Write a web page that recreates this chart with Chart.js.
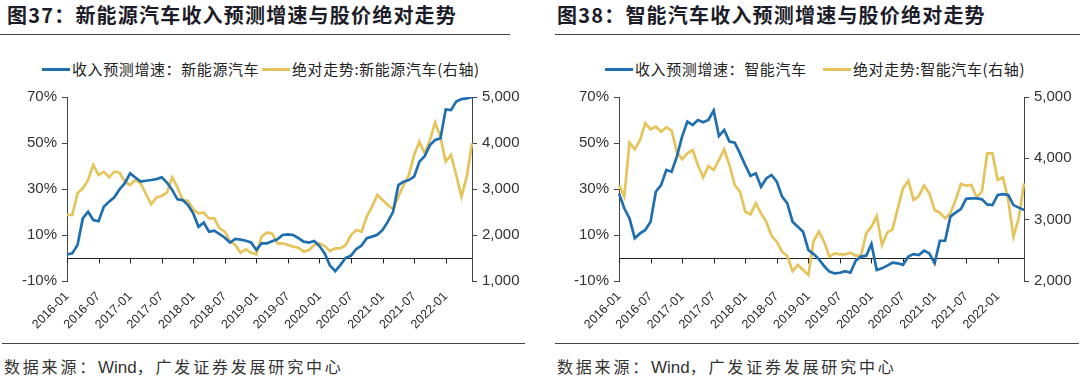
<!DOCTYPE html>
<html>
<head>
<meta charset="utf-8">
<script src="https://cdn.jsdelivr.net/npm/chart.js@4"></script>
<style>
html,body{margin:0;padding:0;background:#fff;}
body{width:1080px;height:380px;position:relative;overflow:hidden;font-family:"Noto Sans CJK SC","Noto Sans",sans-serif;color:#333;}
.title{position:absolute;top:2px;font-size:20px;font-weight:bold;color:#1c1c28;letter-spacing:1.2px;white-space:nowrap;line-height:26px;}
.hr{position:absolute;height:0;border-top:1.5px solid #444;}
.leg{position:absolute;top:59px;font-size:15px;letter-spacing:0.6px;line-height:20px;white-space:nowrap;color:#222;}
.sw{position:absolute;top:68px;height:3px;width:28px;}
.foot{position:absolute;top:354px;font-size:16px;letter-spacing:2.8px;line-height:24px;white-space:nowrap;color:#333;}
canvas{position:absolute;}
</style>
</head>
<body>
<div class="title" style="left:7px;">图37：新能源汽车收入预测增速与股价绝对走势</div>
<div class="hr" style="left:0;width:510px;top:34px;"></div>
<div class="title" style="left:557px;">图38：智能汽车收入预测增速与股价绝对走势</div>
<div class="hr" style="left:555px;width:525px;top:34px;"></div>

<div class="sw" style="left:42px;background:#1f6fb0;"></div>
<div class="leg" style="left:72px;">收入预测增速：新能源汽车</div>
<div class="sw" style="left:262px;background:#e6c45c;"></div>
<div class="leg" style="left:292px;">绝对走势:新能源汽车(右轴)</div>

<div class="sw" style="left:605px;background:#1f6fb0;"></div>
<div class="leg" style="left:635px;">收入预测增速：智能汽车</div>
<div class="sw" style="left:823px;background:#e6c45c;"></div>
<div class="leg" style="left:853px;">绝对走势:智能汽车(右轴)</div>

<canvas id="c1" width="540" height="260" style="left:0;top:80px;"></canvas>
<canvas id="c2" width="540" height="260" style="left:540px;top:80px;"></canvas>

<div class="hr" style="left:2px;width:523px;top:343px;"></div>
<div class="hr" style="left:555px;width:524px;top:343px;"></div>
<div class="foot" style="left:4px;">数据来源：<span style="font-family:'Liberation Sans',Arial,sans-serif;letter-spacing:0;font-size:17px;">Wind</span>，广发证券发展研究中心</div>
<div class="foot" style="left:557px;">数据来源：<span style="font-family:'Liberation Sans',Arial,sans-serif;letter-spacing:0;font-size:17px;">Wind</span>，广发证券发展研究中心</div>

<script>
const months = [
"2016-01","2016-02","2016-03","2016-04","2016-05","2016-06","2016-07","2016-08","2016-09","2016-10","2016-11","2016-12",
"2017-01","2017-02","2017-03","2017-04","2017-05","2017-06","2017-07","2017-08","2017-09","2017-10","2017-11","2017-12",
"2018-01","2018-02","2018-03","2018-04","2018-05","2018-06","2018-07","2018-08","2018-09","2018-10","2018-11","2018-12",
"2019-01","2019-02","2019-03","2019-04","2019-05","2019-06","2019-07","2019-08","2019-09","2019-10","2019-11","2019-12",
"2020-01","2020-02","2020-03","2020-04","2020-05","2020-06","2020-07","2020-08","2020-09","2020-10","2020-11","2020-12",
"2021-01","2021-02","2021-03","2021-04","2021-05","2021-06","2021-07","2021-08","2021-09","2021-10","2021-11","2021-12",
"2022-01","2022-02","2022-03","2022-04","2022-05","2022-06"];
const xTickLabels = ["2016-01","2016-07","2017-01","2017-07","2018-01","2018-07","2019-01","2019-07","2020-01","2020-07","2021-01","2021-07","2022-01"];

const nevGrowth = [1.5,2,5.7,17.2,20.1,16.5,16,22.3,24.5,26.4,29.9,32.5,
36.8,35,33.2,33.6,33.9,34.3,35.1,32.8,29.6,25.5,25.2,23,
19.4,13.6,15.4,11.4,11.9,10.4,8.8,6.7,8.3,8,7.5,6.8,
3.5,6.4,6.4,7.3,8.1,10,10.3,10,8.6,7.1,6.7,7.4,
5.2,2,-3.3,-5.7,-3,0.1,1,3.9,5.4,8.6,9.3,10.1,
12.2,15.8,20.1,31.7,33.2,33.9,35.4,41.9,44.3,49.1,51.3,52,
64.6,64.3,68,69.1,69.4,70];
const nevPrice = [2435,2435,2906,3014,3196,3522,3304,3377,3254,3377,3355,3159,
3087,3196,3123,2891,2667,2819,2848,2920,3254,3036,2761,2739,
2558,2471,2486,2362,2362,2145,2072,1855,1783,1616,1688,1616,
1580,1964,2055,2030,1819,1819,1783,1746,1725,1638,1674,1783,
1819,1761,1652,1710,1710,1783,2000,2109,2072,2399,2616,2870,
2761,2652,2558,2833,3087,3304,3739,4029,3775,4065,4442,4138,
3594,3739,3304,2833,3268,3993];
const smartGrowth = [28.1,21.6,17.2,8.6,10.7,12.2,15.8,28.8,31.7,38.3,37.5,44.1,
52.8,59.3,57.8,60,59,60,64.1,53,55.7,50.6,50.1,45.5,
40.4,35.7,36.8,31,34.6,36.1,33.2,26.7,23.8,15.8,13.6,11.4,
3.5,1.7,-0.5,-3.5,-5.9,-6.7,-6.4,-5.7,-6.4,-1.2,0.6,1,
6.1,-5.2,-4.5,-3.3,-2,-2.3,-3,0.6,1.7,1.3,3.2,2,
-2.3,7.5,7.5,18,19.7,21.3,25.7,25.9,25.9,25.5,23.3,23,
27.4,27.8,27.4,23,21.9,20.9];
const smartPrice = [3565,3375,4255,4147,4299,4571,4473,4516,4435,4505,4451,4109,
3984,4082,4136,3891,3690,3875,3810,3973,4147,3891,3565,3457,
3130,3087,3266,3103,2967,2739,2641,2478,2408,2163,2261,2179,
2098,2652,2804,2641,2397,2451,2435,2435,2462,2413,2413,2777,
2886,3060,2587,2788,2842,3185,3511,3636,3321,3386,3554,3429,
3158,3114,3022,3103,3321,3582,3554,3565,3364,3457,4082,4082,
3647,3690,3321,2723,3022,3592];
const leftTicks = [-10,10,30,50,70];
const nevRightTicks = [1000,2000,3000,4000,5000];
const smartRightTicks = [2000,3000,4000,5000];

const BLUE = '#1f6fb0', GOLD = '#e6c45c';

const zeroLine = {
  id: 'zeroLine',
  beforeDatasetsDraw(chart) {
    const {ctx, chartArea, scales} = chart;
    const x = scales.x, y = scales.y;
    const yz = Math.round(y.getPixelForValue(0)) + 0.5;
    ctx.save();
    ctx.strokeStyle = '#222';
    ctx.lineWidth = 1;
    ctx.beginPath();
    ctx.moveTo(chartArea.left, yz);
    ctx.lineTo(chartArea.right, yz);
    months.forEach((m, i) => {
      if (xTickLabels.includes(m)) {
        const px = Math.round(x.getPixelForValue(i)) + 0.5;
        ctx.moveTo(px, yz);
        ctx.lineTo(px, yz + 5);
      }
    });
    ctx.stroke();
    ctx.restore();
  }
};

function makeChart(id, growth, price, rightTicks, leftW, rightW, growthLabel, priceLabel) {
  const axisFont = {family: "'Liberation Sans', Arial, sans-serif", size: 15};
  return new Chart(document.getElementById(id), {
    type: 'line',
    data: {
      labels: months,
      datasets: [
        {label: growthLabel, data: growth, yAxisID: 'y', borderColor: BLUE, borderWidth: 2.7, pointRadius: 0, tension: 0},
        {label: priceLabel, data: price, yAxisID: 'y1', borderColor: GOLD, borderWidth: 2.7, pointRadius: 0, tension: 0}
      ]
    },
    options: {
      responsive: false,
      animation: false,
      events: [],
      layout: {padding: {top: 17, left: 0, right: 0, bottom: 0}},
      plugins: {legend: {display: false}, tooltip: {enabled: false}},
      scales: {
        x: {
          type: 'category',
          offset: false,
          grid: {display: false, drawTicks: false},
          border: {display: false},
          ticks: {
            autoSkip: false, minRotation: 45, maxRotation: 45, padding: 8,
            color: '#2a2a2a', font: {family: "'Liberation Sans', Arial, sans-serif", size: 12.5},
            callback: function(v, i) { const m = months[i]; return xTickLabels.includes(m) ? m : null; }
          },
          afterFit: s => { s.height = 59; }
        },
        y: {
          position: 'left', min: -10, max: 70,
          afterBuildTicks: s => { s.ticks = leftTicks.map(v => ({value: v})); },
          grid: {display: true, drawOnChartArea: false, drawTicks: true, tickLength: 5, color: '#444'},
          border: {display: true, color: '#444', width: 1},
          ticks: {padding: 5, color: '#333', font: axisFont, callback: v => v + '%'},
          afterFit: s => { s.width = leftW; }
        },
        y1: {
          position: 'right', min: rightTicks[0], max: 5000,
          afterBuildTicks: s => { s.ticks = rightTicks.map(v => ({value: v})); },
          grid: {display: true, drawOnChartArea: false, drawTicks: true, tickLength: 5, color: '#444'},
          border: {display: true, color: '#444', width: 1},
          ticks: {padding: 5, color: '#333', font: axisFont, callback: v => v.toLocaleString('en-US')},
          afterFit: s => { s.width = rightW; }
        }
      }
    },
    plugins: [zeroLine]
  });
}

makeChart('c1', nevGrowth, nevPrice, nevRightTicks, 67, 68, '收入预测增速：新能源汽车', '绝对走势:新能源汽车(右轴)');
makeChart('c2', smartGrowth, smartPrice, smartRightTicks, 79, 56, '收入预测增速：智能汽车', '绝对走势:智能汽车(右轴)');
</script>
</body>
</html>
